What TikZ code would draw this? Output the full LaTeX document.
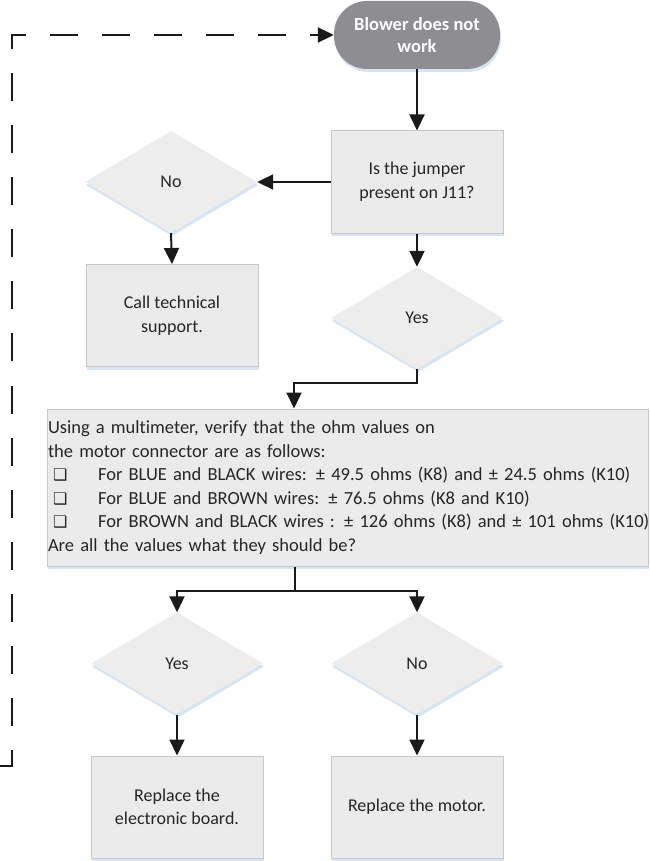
\documentclass[tikz,border=0pt]{standalone}
\usepackage{fontspec}
\setmainfont{Carlito}[Ligatures=NoCommon]
\newfontfamily\dejavu{DejaVu Sans}
\usetikzlibrary{arrows.meta,shapes.geometric,shadows}
\definecolor{boxfill}{RGB}{235,235,235}
\definecolor{boxline}{RGB}{200,200,200}
\definecolor{dfill}{RGB}{237,237,237}
\definecolor{termfill}{RGB}{142,142,146}
\definecolor{txt}{RGB}{38,38,38}
\definecolor{ln}{RGB}{26,26,26}
\definecolor{shadowblue}{RGB}{214,228,243}
\newcommand{\chkbox}{\makebox[50pt][l]{\hspace{5pt}{\dejavu\fontsize{16}{16}\selectfont ❑}}}
\tikzset{
  basefont/.style={font=\fontsize{18}{23.6}\selectfont, text=txt},
  bigfont/.style={font=\fontsize{18.5}{23.6}\selectfont, text=txt},
  myshadow/.style={drop shadow={shadow xshift=1pt, shadow yshift=-3pt, fill=shadowblue, opacity=1}},
  procbox/.style={basefont, rectangle, fill=boxfill, draw=boxline, line width=1pt,
    minimum width=172pt, minimum height=102pt, align=center, inner sep=0pt, myshadow},
  decbox/.style={basefont, diamond, fill=dfill, minimum width=172pt, minimum height=102pt,
    inner sep=0pt, myshadow},
  termbox/.style={font=\fontsize{18.5}{22}\selectfont\bfseries, text=white, rectangle,
    rounded corners=33pt, fill=termfill, minimum width=166pt, minimum height=68pt,
    align=center, inner sep=0pt, myshadow},
  arr/.style={draw=ln, line width=2pt, -{Triangle[length=16pt,width=15pt]}},
  plain/.style={draw=ln, line width=2pt},
  dasharr/.style={draw=ln, line width=2pt, dash pattern=on 28pt off 24.07pt, -{Triangle[length=16pt,width=15pt]}}
}
\begin{document}
\begin{tikzpicture}[x=1pt,y=-1pt]
\useasboundingbox (0,0) rectangle (649,861);
\node[termbox] (term) at (417,35) {Blower does not\\work};
\node[procbox] (jumper) at (417,182) {Is the jumper\\present on J11?};
\node[decbox] (no1) at (171,182) {No};
\node[procbox] (call) at (172,315.5) {Call technical\\support.};
\node[decbox] (yes1) at (417,318) {Yes};
\node[bigfont, rectangle, fill=boxfill, draw=boxline, line width=1pt,
  minimum width=601pt, minimum height=157pt, text width=599pt, inner sep=1pt,
  align=left, myshadow] (big) at (347.5,487.5) {\mbox{Using a multimeter, verify that the ohm values on}\\
\mbox{the motor connector are as follows:}\\
\mbox{\chkbox For BLUE and BLACK wires: ± 49.5 ohms (K8) and ± 24.5 ohms (K10)}\\
\mbox{\chkbox For BLUE and BROWN wires: ± 76.5 ohms (K8 and K10)}\\
\mbox{\chkbox For BROWN and BLACK wires : ± 126 ohms (K8) and ± 101 ohms (K10)}\\
\mbox{Are all the values what they should be?}};
\node[decbox] (yes2) at (177,663.5) {Yes};
\node[decbox] (no2) at (417,663.5) {No};
\node[procbox] (board) at (177,807) {Replace the\\electronic board.};
\node[procbox] (motor) at (417,807) {Replace the motor.};
% connectors
\draw[arr] (term.south) -- (jumper.north);
\draw[arr] (jumper.west) -- (no1.east);
\draw[arr] (no1.south) -- (call.north);
\draw[arr] (jumper.south) -- (yes1.north);
\coordinate (j1) at (294,383);
\draw[arr] (yes1.south) |- (j1) -- (j1 |- big.north);
\coordinate (split) at (295,591);
\draw[plain] (split |- big.south) -- (split);
\draw[arr] (split) -| (yes2.north);
\draw[arr] (split) -| (no2.north);
\draw[arr] (yes2.south) -- (board.north);
\draw[arr] (no2.south) -- (motor.north);
% dashed loop
\coordinate (d0) at (0,766);
\coordinate (d1) at (12,766);
\coordinate (d2) at (12,35);
\draw[dasharr] (d0) -- (d1) -- (d2) -- (term.west);
\end{tikzpicture}
\end{document}
